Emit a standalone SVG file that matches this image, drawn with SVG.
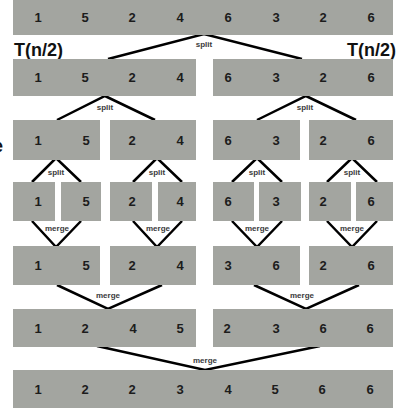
<svg xmlns="http://www.w3.org/2000/svg" width="399" height="410" viewBox="0 0 399 410">
<style>
.c{fill:#a3a5a0}
.n{font-family:"Liberation Sans",Arial,sans-serif;font-weight:bold;font-size:13px;fill:#1c1c1c;text-anchor:middle}
.t{font-family:"Liberation Sans",Arial,sans-serif;font-weight:bold;font-size:18px;fill:#111}
.l{font-family:"Liberation Sans",Arial,sans-serif;font-size:8px;font-weight:bold;fill:#3a3a3a;text-anchor:middle;stroke:#fff;stroke-width:2;paint-order:stroke}
.e{fill:none;stroke:#000;stroke-width:2.5;stroke-linejoin:miter}
</style>
<rect width="399" height="410" fill="#fff"/>
<text class="t" x="-7" y="152" font-size="22">e</text>
<text class="t" x="14" y="56">T(n/2)</text>
<text class="t" x="396" y="56" text-anchor="end">T(n/2)</text>
<g id="connectors">
<polyline class="e" points="108,59 204,34 302,59"/>
<polyline class="e" points="57,120 105,96 155,120"/>
<polyline class="e" points="257,120 306,96 356,120"/>
<polyline class="e" points="32,182 56,158 81,182"/>
<polyline class="e" points="133,182 157,158 182,182"/>
<polyline class="e" points="232,182 257,158 282,182"/>
<polyline class="e" points="327,182 352,158 377,182"/>
<polyline class="e" points="32,221 56,247 81,221"/>
<polyline class="e" points="133,221 157,247 182,221"/>
<polyline class="e" points="232,221 257,247 282,221"/>
<polyline class="e" points="327,221 352,247 377,221"/>
<polyline class="e" points="57,285 108,309 162,285"/>
<polyline class="e" points="254,285 306,309 359,285"/>
<polyline class="e" points="97,346 205,370 320,346"/>
<text class="l" x="204" y="47">split</text>
<text class="l" x="105" y="110">split</text>
<text class="l" x="305" y="110">split</text>
<text class="l" x="56" y="175">split</text>
<text class="l" x="157" y="175">split</text>
<text class="l" x="257" y="175">split</text>
<text class="l" x="352" y="175">split</text>
<text class="l" x="57" y="231">merge</text>
<text class="l" x="158" y="231">merge</text>
<text class="l" x="257" y="231">merge</text>
<text class="l" x="352" y="231">merge</text>
<text class="l" x="108" y="298">merge</text>
<text class="l" x="302" y="298">merge</text>
<text class="l" x="205" y="363">merge</text>
</g>
<g id="row1">
<rect class="c" x="13" y="0" width="380" height="35"/>
<text class="n" x="38" y="22">1</text><text class="n" x="85" y="22">5</text><text class="n" x="132" y="22">2</text><text class="n" x="180" y="22">4</text>
<text class="n" x="228" y="22">6</text><text class="n" x="276" y="22">3</text><text class="n" x="323" y="22">2</text><text class="n" x="371" y="22">6</text>
</g>
<g id="row2-left">
<rect class="c" x="13" y="59" width="183" height="37"/>
<text class="n" x="38" y="82">1</text><text class="n" x="85" y="82">5</text><text class="n" x="132" y="82">2</text><text class="n" x="180" y="82">4</text>
</g>
<g id="row2-right">
<rect class="c" x="213" y="59" width="180" height="37"/>
<text class="n" x="228" y="82">6</text><text class="n" x="276" y="82">3</text><text class="n" x="323" y="82">2</text><text class="n" x="371" y="82">6</text>
</g>
<g id="row3-a"><rect class="c" x="13" y="120" width="87" height="40"/><text class="n" x="38" y="145">1</text><text class="n" x="86" y="145">5</text></g>
<g id="row3-b"><rect class="c" x="110" y="120" width="86" height="40"/><text class="n" x="132" y="145">2</text><text class="n" x="180" y="145">4</text></g>
<g id="row3-c"><rect class="c" x="213" y="120" width="87" height="40"/><text class="n" x="228" y="145">6</text><text class="n" x="276" y="145">3</text></g>
<g id="row3-d"><rect class="c" x="309" y="120" width="84" height="40"/><text class="n" x="323" y="145">2</text><text class="n" x="371" y="145">6</text></g>
<g id="row4-a"><rect class="c" x="13" y="182" width="42" height="39"/><text class="n" x="38" y="206">1</text></g>
<g id="row4-b"><rect class="c" x="61" y="182" width="40" height="39"/><text class="n" x="86" y="206">5</text></g>
<g id="row4-c"><rect class="c" x="110" y="182" width="42" height="39"/><text class="n" x="132" y="206">2</text></g>
<g id="row4-d"><rect class="c" x="158" y="182" width="38" height="39"/><text class="n" x="180" y="206">4</text></g>
<g id="row4-e"><rect class="c" x="213" y="182" width="41" height="39"/><text class="n" x="228" y="206">6</text></g>
<g id="row4-f"><rect class="c" x="259" y="182" width="42" height="39"/><text class="n" x="276" y="206">3</text></g>
<g id="row4-g"><rect class="c" x="309" y="182" width="42" height="39"/><text class="n" x="323" y="206">2</text></g>
<g id="row4-h"><rect class="c" x="356" y="182" width="37" height="39"/><text class="n" x="371" y="206">6</text></g>
<g id="row5-a"><rect class="c" x="13" y="246" width="87" height="39"/><text class="n" x="38" y="270">1</text><text class="n" x="86" y="270">5</text></g>
<g id="row5-b"><rect class="c" x="110" y="246" width="86" height="39"/><text class="n" x="132" y="270">2</text><text class="n" x="180" y="270">4</text></g>
<g id="row5-c"><rect class="c" x="213" y="246" width="87" height="39"/><text class="n" x="228" y="270">3</text><text class="n" x="276" y="270">6</text></g>
<g id="row5-d"><rect class="c" x="309" y="246" width="84" height="39"/><text class="n" x="323" y="270">2</text><text class="n" x="371" y="270">6</text></g>
<g id="row6-left">
<rect class="c" x="13" y="309" width="183" height="38"/>
<text class="n" x="38" y="333">1</text><text class="n" x="85" y="333">2</text><text class="n" x="133" y="333">4</text><text class="n" x="180" y="333">5</text>
</g>
<g id="row6-right">
<rect class="c" x="213" y="309" width="180" height="38"/>
<text class="n" x="227" y="333">2</text><text class="n" x="276" y="333">3</text><text class="n" x="323" y="333">6</text><text class="n" x="370" y="333">6</text>
</g>
<g id="row7">
<rect class="c" x="13" y="370" width="380" height="38"/>
<text class="n" x="38" y="394">1</text><text class="n" x="85" y="394">2</text><text class="n" x="132" y="394">2</text><text class="n" x="180" y="394">3</text>
<text class="n" x="228" y="394">4</text><text class="n" x="275" y="394">5</text><text class="n" x="322" y="394">6</text><text class="n" x="370" y="394">6</text>
</g>
</svg>
